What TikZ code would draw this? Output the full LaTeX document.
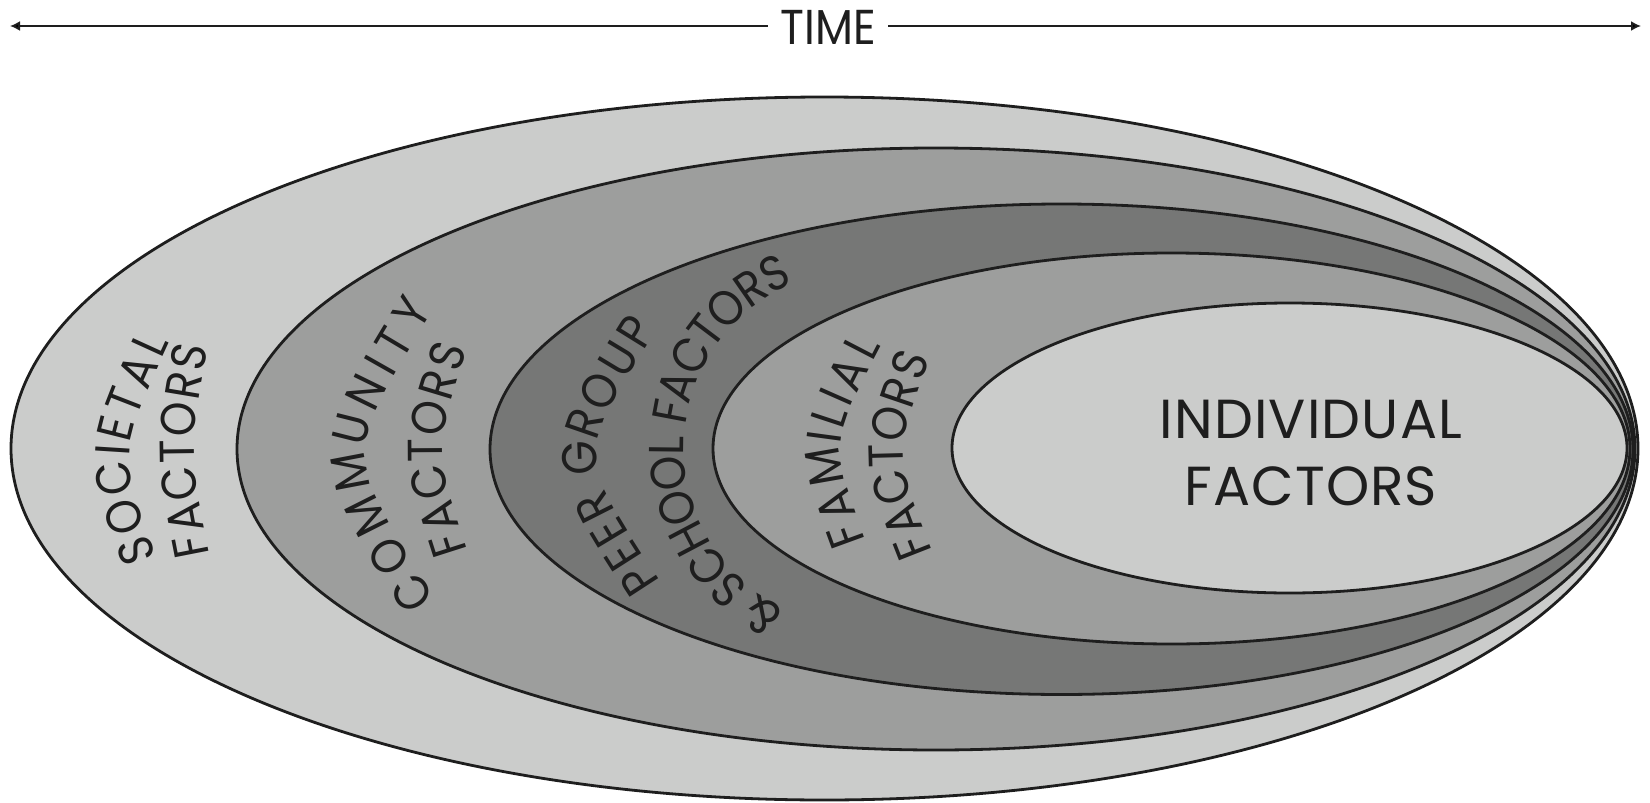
\documentclass[tikz,border=0pt]{standalone}
\usepackage{fontspec}
\usepackage{graphicx}
\usetikzlibrary{decorations.text,arrows.meta}
\newfontfamily\labfont{Poppins}
\newfontfamily\condfont[FakeStretch=0.9]{Poppins}
\newcommand\ringfont{\condfont\fontsize{24.5}{28}\selectfont}
\newcommand\indfont{\labfont\addfontfeature{LetterSpace=2}\fontsize{27.5}{33.5}\selectfont}
\newcommand\timefont{\labfont\fontsize{24.5}{28}\selectfont}
\definecolor{lightgr}{HTML}{CBCCCB}
\definecolor{midgr}{HTML}{9D9E9D}
\definecolor{darkgr}{HTML}{767776}
\definecolor{inkc}{HTML}{1E1E1E}
\begin{document}
\begin{tikzpicture}[x=0.5pt,y=-0.5pt,
  ring/.style={draw=inkc,line width=1.4pt},
  ringtext/.style={decorate,decoration={text along path,text align={fit to path},raise=-8.5pt,text color=inkc,text={|\ringfont|#1}}},
  timearrow/.style={draw=inkc,line width=0.9pt,-{Latex[length=5pt,width=5pt]}}
]
\useasboundingbox (0,0) rectangle (1650,803);
\fill[white] (0,0) rectangle (1650,803);
% rings
\draw[ring,fill=lightgr] (824.5,448.5) ellipse [x radius=813.5,y radius=351.5];
\draw[ring,fill=midgr] (936,449) ellipse [x radius=699,y radius=301];
\draw[ring,fill=darkgr] (1061.5,449.25) ellipse [x radius=571.5,y radius=245.25];
\draw[ring,fill=midgr] (1171.5,448.5) ellipse [x radius=458.5,y radius=195.5];
\draw[ring,fill=lightgr] (1289.5,448) ellipse [x radius=337.5,y radius=145];
% curved labels
\path[ringtext={SOCIETAL}] (140,563) .. controls (101,451) .. (154,335);
\path[ringtext={FACTORS}] (193,558) .. controls (172,451) .. (191,344);
\path[ringtext={COMMUNITY}] (421,608) .. controls (324.5,455) .. (418,302);
\path[ringtext={FACTORS}] (451,556) .. controls (417,450) .. (451,344);
\path[ringtext={PEER GROUP}] (646,591) .. controls (558,456) .. (642,321);
\path[ringtext={{\&} SCHOOL FACTORS}] (776.52,623.26) .. controls (707.86,589.77) and (665.07,519.26) .. (667.07,442.90) .. controls (669.07,366.54) and (715.49,298.35) .. (785.81,268.50);
\path[ringtext={FAMILIAL}] (850,546) .. controls (812,442) .. (866,338);
\path[ringtext={FACTORS}] (917,558) .. controls (876.5,455) .. (914,352);
% centre label
\node[font=\indfont,align=center,text=inkc,inner sep=0pt] (ind) at (1311,453) {INDIVIDUAL\\FACTORS};
% time arrow
\node[font=\timefont,text=inkc,inner xsep=6pt,inner ysep=0pt] (time) at (828,27.5) {\scalebox{0.9}[1]{TIME}};
\coordinate (lt) at (10,26);
\coordinate (rt) at (1641,26);
\draw[timearrow] (time.west |- lt) -- (lt);
\draw[timearrow] (time.east |- rt) -- (rt);
\end{tikzpicture}
\end{document}
